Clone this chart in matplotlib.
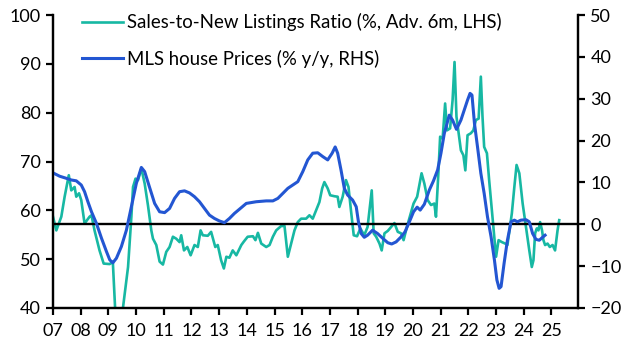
import matplotlib
matplotlib.use("Agg")
import matplotlib.pyplot as plt

plt.rcParams['font.family'] = ['Lato', 'DejaVu Sans']

# sales-to-new listings ratio (%, advanced 6m, LHS)
snlr_x = [2007.00, 2007.12, 2007.30, 2007.42, 2007.57, 2007.66, 2007.78, 2007.84, 2007.94,
          2008.02, 2008.14, 2008.32, 2008.39, 2008.50, 2008.68, 2008.83, 2009.05, 2009.16,
          2009.26, 2009.37, 2009.45, 2009.53, 2009.71, 2009.83, 2009.89, 2009.98, 2010.07,
          2010.19, 2010.31, 2010.43, 2010.55, 2010.61, 2010.73, 2010.85, 2010.97, 2011.09,
          2011.21, 2011.33, 2011.45, 2011.57, 2011.63, 2011.73, 2011.85, 2011.97, 2012.11,
          2012.23, 2012.33, 2012.41, 2012.59, 2012.71, 2012.86, 2012.95, 2013.07, 2013.17,
          2013.26, 2013.37, 2013.49, 2013.62, 2013.80, 2013.89, 2014.03, 2014.22, 2014.31,
          2014.40, 2014.52, 2014.70, 2014.82, 2014.94, 2015.06, 2015.24, 2015.36, 2015.48,
          2015.60, 2015.72, 2015.84, 2015.96, 2016.14, 2016.26, 2016.38, 2016.50, 2016.62,
          2016.72, 2016.80, 2016.92, 2017.01, 2017.16, 2017.28, 2017.34, 2017.46, 2017.58,
          2017.67, 2017.76, 2017.86, 2017.98, 2018.10, 2018.24, 2018.36, 2018.51, 2018.58,
          2018.67, 2018.79, 2018.87, 2018.97, 2019.09, 2019.21, 2019.33, 2019.45, 2019.57,
          2019.66, 2019.78, 2019.90, 2020.02, 2020.15, 2020.23, 2020.31, 2020.41, 2020.53,
          2020.65, 2020.77, 2020.83, 2020.91, 2020.98, 2021.07, 2021.16, 2021.23, 2021.34,
          2021.43, 2021.50, 2021.57, 2021.65, 2021.73, 2021.82, 2021.89, 2021.97, 2022.09,
          2022.18, 2022.27, 2022.37, 2022.45, 2022.51, 2022.57, 2022.67, 2022.75, 2022.87,
          2023.00, 2023.09, 2023.21, 2023.33, 2023.41, 2023.50, 2023.57, 2023.66, 2023.74,
          2023.84, 2023.96, 2024.08, 2024.20, 2024.29, 2024.35, 2024.41, 2024.47, 2024.53,
          2024.59, 2024.66, 2024.71, 2024.77, 2024.86, 2024.94, 2025.04, 2025.13, 2025.22,
          2025.28]
snlr_y = [58.7, 55.9, 58.7, 62.8, 67.2, 64.1, 64.8, 62.8, 63.5,
          62.1, 57.3, 58.7, 59.0, 55.9, 51.8, 49.1, 49.0, 49.5,
          38.0, 35.0, 35.0, 40.2, 48.4, 58.7, 64.8, 66.5, 66.2,
          68.6, 65.5, 61.0, 55.9, 54.2, 52.9, 49.5, 48.9, 51.5,
          52.5, 54.6, 54.2, 53.5, 54.9, 51.8, 52.5, 50.8, 52.9,
          52.5, 55.9, 54.9, 54.8, 55.6, 52.5, 52.9, 49.8, 48.1,
          50.5, 50.3, 51.8, 50.8, 52.9, 53.6, 54.6, 54.7, 53.9,
          55.4, 53.2, 52.5, 52.9, 54.6, 55.9, 56.8, 56.8, 50.5,
          53.2, 55.9, 57.6, 58.3, 58.3, 59.0, 58.3, 60.0, 61.7,
          64.5, 65.8, 64.5, 63.1, 62.9, 62.8, 60.7, 62.8, 66.2,
          64.8, 60.0, 54.9, 54.7, 56.3, 54.9, 56.6, 64.1, 55.3,
          54.6, 53.2, 51.8, 55.3, 55.8, 56.6, 57.4, 55.6, 55.3,
          53.9, 56.6, 59.0, 61.4, 62.8, 65.2, 67.6, 65.5, 62.1,
          61.1, 61.4, 58.7, 66.9, 75.1, 74.7, 81.9, 76.4, 76.8,
          82.6, 90.4, 79.2, 75.8, 72.3, 71.3, 68.2, 75.4, 75.8,
          76.4, 78.5, 78.8, 87.4, 79.2, 73.0, 71.7, 66.2, 58.7,
          50.5, 53.9, 53.5, 53.2, 52.9, 56.6, 59.4, 64.8, 69.3,
          67.6, 61.4, 56.6, 51.8, 48.4, 49.8, 55.3, 56.3, 55.9,
          57.6, 55.9, 53.9, 52.9, 53.2, 52.5, 52.9, 51.8, 55.9,
          58.0]

# MLS house prices (% y/y, RHS)
mls_x = [2007.00, 2007.24, 2007.48, 2007.66, 2007.84, 2008.02, 2008.14, 2008.26, 2008.39,
         2008.57, 2008.75, 2008.93, 2009.05, 2009.16, 2009.29, 2009.47, 2009.65, 2009.83,
         2010.01, 2010.19, 2010.31, 2010.47, 2010.67, 2010.85, 2011.03, 2011.21, 2011.39,
         2011.57, 2011.75, 2011.93, 2012.11, 2012.29, 2012.47, 2012.65, 2012.83, 2013.01,
         2013.19, 2013.37, 2013.55, 2013.73, 2013.98, 2014.34, 2014.70, 2014.94, 2015.12,
         2015.30, 2015.48, 2015.66, 2015.84, 2016.02, 2016.20, 2016.38, 2016.56, 2016.74,
         2016.92, 2017.08, 2017.19, 2017.28, 2017.40, 2017.52, 2017.64, 2017.82, 2017.95,
         2018.03, 2018.13, 2018.24, 2018.36, 2018.54, 2018.72, 2018.90, 2019.09, 2019.23,
         2019.39, 2019.57, 2019.71, 2019.87, 2020.02, 2020.15, 2020.26, 2020.41, 2020.59,
         2020.74, 2020.89, 2021.01, 2021.13, 2021.31, 2021.43, 2021.57, 2021.73, 2021.85,
         2021.97, 2022.06, 2022.13, 2022.22, 2022.33, 2022.45, 2022.57, 2022.69, 2022.82,
         2022.94, 2023.03, 2023.11, 2023.18, 2023.29, 2023.41, 2023.54, 2023.66, 2023.77,
         2023.90, 2024.08, 2024.20, 2024.32, 2024.44, 2024.56, 2024.68, 2024.77]
mls_y = [12.3, 11.5, 11.0, 10.6, 10.4, 9.4, 7.8, 5.4, 3.0,
         0.2, -3.3, -6.5, -8.5, -9.2, -8.1, -5.3, -1.4, 4.2,
         9.8, 13.6, 12.6, 9.2, 5.0, 3.0, 2.8, 3.8, 6.2,
         7.8, 8.0, 7.5, 6.6, 5.4, 3.8, 2.2, 1.4, 0.8,
         0.4, 1.4, 2.6, 3.6, 5.0, 5.4, 5.6, 5.6, 6.2,
         7.4, 8.6, 9.4, 10.2, 12.6, 15.4, 17.0, 17.1, 16.2,
         15.4, 17.0, 18.5, 17.0, 13.0, 8.6, 7.0, 5.8, 4.2,
         0.6, -2.2, -3.1, -2.6, -1.4, -2.2, -3.3, -4.4, -4.7,
         -4.2, -3.0, -1.8, 0.6, 3.0, 4.1, 3.4, 4.8, 8.2,
         10.4, 13.0, 17.0, 21.7, 26.1, 24.9, 22.7, 24.9, 27.3,
         29.7, 31.3, 30.9, 24.1, 18.5, 12.2, 7.4, 1.8, -3.0,
         -8.5, -13.3, -15.3, -14.9, -9.3, -3.8, 0.6, 1.0, 0.6,
         1.0, 1.1, 0.6, -2.2, -3.6, -3.8, -3.1, -2.6]

year_ticks = list(range(2007, 2026))
year_labels = ['%02d' % (y % 100) for y in year_ticks]

teal = '#17B8A3'
blue = '#2356D2'

fig = plt.figure(figsize=(6.28, 3.52), dpi=100)
ax = fig.add_axes([0.0844, 0.125, 0.8356, 0.832])
ax2 = ax.twinx()

l1, = ax.plot(snlr_x, snlr_y, color=teal, lw=1.9, solid_joinstyle='round',
              label='Sales-to-New Listings Ratio (%, Adv. 6m, LHS)')
l2, = ax2.plot(mls_x, mls_y, color=blue, lw=2.2, solid_joinstyle='round',
               label='MLS house Prices (% y/y, RHS)')
ax2.axhline(0, color='black', lw=1.7, zorder=1)

ax.set_xlim(2007, 2025.95)
ax.set_ylim(40, 100)
ax2.set_ylim(-20, 50)
ax.set_yticks(range(40, 101, 10))
ax2.set_yticks(range(-20, 51, 10))
ax.set_xticks(year_ticks)
ax.set_xticklabels(year_labels)

for a in (ax, ax2):
    a.spines['top'].set_visible(False)
    for s in ('left', 'right', 'bottom'):
        a.spines[s].set_linewidth(1.6)
    a.tick_params(labelsize=13, width=1.6, length=5, direction='out', pad=4)
ax.tick_params(axis='x', pad=6)

# legend placed in figure pixels to line up with the original
ax2.legend([l1, l2], [l1.get_label(), l2.get_label()], loc='upper left',
           bbox_to_anchor=(82 / 628, 1 - 13 / 352), bbox_transform=fig.transFigure,
           frameon=False, fontsize=13.4, borderpad=0, borderaxespad=0,
           handlelength=2.2, handletextpad=0.2, labelspacing=1.0)

fig.savefig('out.png', dpi=100)
